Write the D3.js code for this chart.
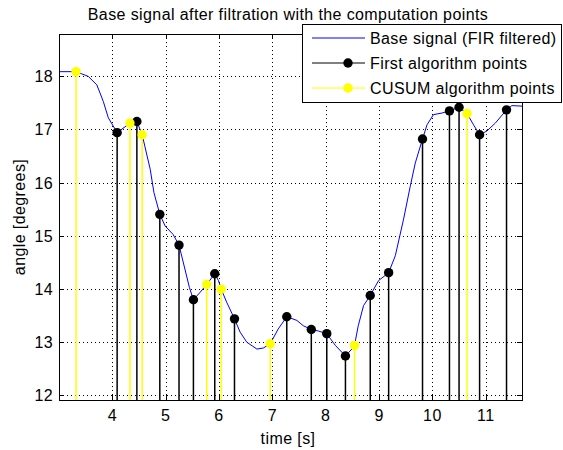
<!DOCTYPE html>
<html lang="en">
<head>
  <meta charset="UTF-8">
  <title>Base signal after filtration with the computation points</title>
  <script src="https://d3js.org/d3.v7.min.js"></script>
  <style>
    body { margin: 0; background: #fff; }
    svg { display: block; font-family: 'Liberation Sans', Arial, sans-serif; }
    .grid line { stroke: #000; stroke-dasharray: 1,3; stroke-width: 1; }
    text { fill: #000; font-size: 16px; letter-spacing: 0.4px; }
  </style>
</head>
<body>
<svg width="563" height="450"></svg>
<script>
  // base signal (FIR filtered), time [s] / angle [deg]
  const signalT = [3.00, 3.32, 3.55, 3.71, 3.83, 3.925, 4.09, 4.33, 4.46, 4.56, 4.61, 4.71, 4.78, 4.89,
    4.99, 5.14, 5.25, 5.36, 5.445, 5.52, 5.645, 5.77, 5.92, 5.99, 6.04, 6.145, 6.29, 6.395, 6.52,
    6.71, 6.83, 6.96, 7.11, 7.27, 7.46, 7.58, 7.73, 7.865, 8.02, 8.18, 8.37, 8.49, 8.54, 8.61, 8.71,
    8.835, 8.99, 9.18, 9.305, 9.46, 9.585, 9.68, 9.815, 9.90, 10.02, 10.18, 10.32, 10.50, 10.65,
    10.77, 10.885, 11.02, 11.18, 11.39, 11.49, 11.68];
  const signalA = [18.09, 18.09, 18.00, 17.84, 17.53, 17.22, 16.94, 17.12, 17.15, 16.90, 16.68, 16.25, 15.81, 15.40,
    15.18, 15.02, 14.82, 14.37, 14.02, 13.79, 13.93, 14.08, 14.28, 14.15, 13.99, 13.74, 13.43, 13.18, 12.99,
    12.86, 12.88, 12.96, 13.24, 13.47, 13.40, 13.30, 13.23, 13.20, 13.15, 12.93, 12.73, 12.86, 12.93, 13.30, 13.68,
    13.87, 14.15, 14.30, 14.62, 15.31, 15.93, 16.37, 16.82, 17.09, 17.28, 17.31, 17.35, 17.42, 17.30,
    17.09, 16.90, 16.97, 17.12, 17.37, 17.45, 17.44];

  // first algorithm points
  const firstT = [4.09, 4.46, 4.89, 5.25, 5.52, 5.92, 6.29, 7.27, 7.73, 8.02, 8.37, 8.835, 9.18, 9.815, 10.32, 10.50, 10.885, 11.39];
  const firstA = [16.94, 17.15, 15.40, 14.82, 13.79, 14.28, 13.43, 13.47, 13.23, 13.15, 12.73, 13.87, 14.30, 16.82, 17.35, 17.42, 16.90, 17.37];

  // CUSUM algorithm points
  const cusumT = [3.32, 4.33, 4.56, 5.77, 6.04, 6.96, 8.54, 10.65];
  const cusumA = [18.09, 17.12, 16.90, 14.08, 13.99, 12.96, 12.93, 17.30];

  const xTicks = [4, 5, 6, 7, 8, 9, 10, 11];
  const yTicks = [12, 13, 14, 15, 16, 17, 18];

  const legendLabels = ["Base signal (FIR filtered)", "First algorithm points", "CUSUM algorithm points"];

  const pLeft = 59, pRight = 522, pTop = 34, pBottom = 400;
  const svg = d3.select("svg");

  const x = d3.scaleLinear().domain([3, 11.68]).range([pLeft, pRight]);
  const y = d3.scaleLinear().domain([11.9, 18.8]).range([pBottom, pTop]);

  svg.append("defs").append("clipPath").attr("id", "plot")
    .append("rect").attr("x", pLeft).attr("y", pTop).attr("width", pRight - pLeft).attr("height", pBottom - pTop);

  // grid
  const grid = svg.append("g").attr("class", "grid");
  grid.selectAll(".gx").data(xTicks).enter().append("line")
    .attr("x1", d => Math.round(x(d)) + 0.5).attr("x2", d => Math.round(x(d)) + 0.5)
    .attr("y1", pTop).attr("y2", pBottom);
  grid.selectAll(".gy").data(yTicks).enter().append("line")
    .attr("y1", d => Math.round(y(d)) + 0.5).attr("y2", d => Math.round(y(d)) + 0.5)
    .attr("x1", pLeft).attr("x2", pRight);

  const plot = svg.append("g").attr("clip-path", "url(#plot)");

  // base signal
  plot.append("path")
    .datum(signalT.map((t, i) => [t, signalA[i]]))
    .attr("fill", "none")
    .attr("stroke", "#0000ff")
    .attr("stroke-width", 1)
    .attr("d", d3.line().x(d => x(d[0])).y(d => y(d[1])));

  function stems(ts, as, color) {
    const data = ts.map((t, i) => [t, as[i]]);
    plot.selectAll(null).data(data).enter().append("line")
      .attr("x1", d => x(d[0])).attr("x2", d => x(d[0]))
      .attr("y1", d => y(d[1])).attr("y2", pBottom + 5)
      .attr("stroke", color).attr("stroke-width", 1.5);
    plot.selectAll(null).data(data).enter().append("circle")
      .attr("cx", d => x(d[0])).attr("cy", d => y(d[1]))
      .attr("r", 4.7).attr("fill", color);
  }
  stems(firstT, firstA, "#000");
  stems(cusumT, cusumA, "#ffff00");

  // axes box and ticks
  svg.append("rect").attr("x", pLeft + 0.5).attr("y", pTop + 0.5)
    .attr("width", pRight - pLeft).attr("height", pBottom - pTop)
    .attr("fill", "none").attr("stroke", "#000").attr("stroke-width", 1);

  const tickLen = 5;
  const ax = svg.append("g").attr("stroke", "#000").attr("stroke-width", 1);
  xTicks.forEach(d => {
    const px = Math.round(x(d)) + 0.5;
    ax.append("line").attr("x1", px).attr("x2", px).attr("y1", pBottom).attr("y2", pBottom - tickLen);
    ax.append("line").attr("x1", px).attr("x2", px).attr("y1", pTop).attr("y2", pTop + tickLen);
  });
  yTicks.forEach(d => {
    const py = Math.round(y(d)) + 0.5;
    ax.append("line").attr("y1", py).attr("y2", py).attr("x1", pLeft).attr("x2", pLeft + tickLen);
    ax.append("line").attr("y1", py).attr("y2", py).attr("x1", pRight).attr("x2", pRight - tickLen);
  });

  svg.selectAll(".xl").data(xTicks).enter().append("text")
    .attr("x", d => x(d)).attr("y", 421)
    .attr("text-anchor", "middle").text(d => d);
  svg.selectAll(".yl").data(yTicks).enter().append("text")
    .attr("x", 53).attr("y", d => y(d) + 6)
    .attr("text-anchor", "end").text(d => d);

  svg.append("text").attr("x", 288).attr("y", 20).attr("text-anchor", "middle")
    .text("Base signal after filtration with the computation points");
  svg.append("text").attr("x", 288).attr("y", 444).attr("text-anchor", "middle")
    .text("time [s]");
  svg.append("text").attr("transform", `translate(25,${(pTop + pBottom) / 2}) rotate(-90)`)
    .attr("text-anchor", "middle").text("angle [degrees]");

  // legend
  const lg = svg.append("g");
  lg.append("rect").attr("x", 302.5).attr("y", 24.5).attr("width", 259).attr("height", 78)
    .attr("fill", "#fff").attr("stroke", "#000").attr("stroke-width", 1);
  const legendColors = ["#0000ff", "#000", "#ffff00"];
  legendLabels.forEach((lab, i) => {
    const ly = 38 + i * 25;
    lg.append("line").attr("x1", 312).attr("x2", 365).attr("y1", ly).attr("y2", ly)
      .attr("stroke", legendColors[i]).attr("stroke-width", 1);
    if (i > 0) lg.append("circle").attr("cx", 348).attr("cy", ly).attr("r", 4.7).attr("fill", legendColors[i]);
    lg.append("text").attr("x", 370).attr("y", ly + 6).text(lab);
  });
</script>
</body>
</html>
